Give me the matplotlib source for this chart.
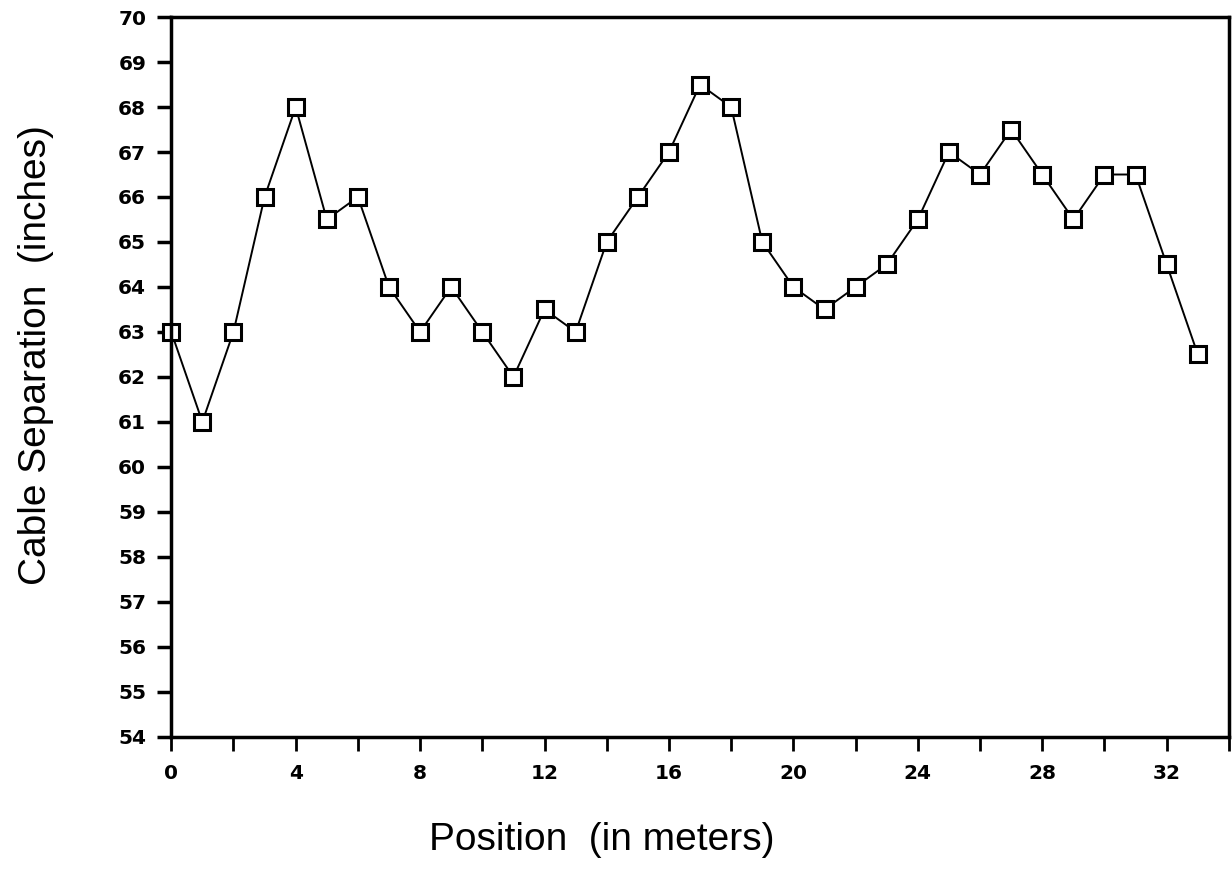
import numpy as np
import matplotlib.pyplot as plt

position = np.arange(0, 34)
separation = [63, 61, 63, 66, 68, 65.5, 66, 64, 63, 64,
              63, 62, 63.5, 63, 65, 66, 67, 68.5, 68, 65,
              64, 63.5, 64, 64.5, 65.5, 67, 66.5, 67.5, 66.5, 65.5,
              66.5, 66.5, 64.5, 62.5]

xticks_major = [0, 4, 8, 12, 16, 20, 24, 28, 32]
yticks = list(range(54, 71))

fig = plt.figure(figsize=(12.32, 8.77), dpi=100)
ax = fig.add_axes([0.139, 0.16, 0.8585, 0.8205])

ax.plot(position, separation, color='black', linewidth=1.4,
        marker='s', markersize=12, markerfacecolor='white',
        markeredgecolor='black', markeredgewidth=2.2, clip_on=False)

ax.set_xlim(0, 34)
ax.set_ylim(54, 70)
ax.set_xticks(xticks_major)
ax.set_xticks(np.arange(0, 35, 2), minor=True)
ax.set_yticks(yticks)

for s in ax.spines.values():
    s.set_linewidth(2.5)

ax.tick_params(axis='x', which='both', direction='out', length=10, width=2,
               labelsize=14.5, pad=10)
ax.tick_params(axis='y', which='both', direction='out', length=10, width=2.5,
               labelsize=14.5, pad=8)
for lab in ax.get_xticklabels() + ax.get_yticklabels():
    lab.set_fontweight('bold')

ax.set_xlabel('Position  (in meters)', fontsize=28, family='Liberation Sans')
ax.set_ylabel('Cable Separation  (inches)', fontsize=28, family='Liberation Sans')
ax.xaxis.set_label_coords(0.407, -0.143)
ax.yaxis.set_label_coords(-0.128, 0.53)
ax.xaxis.label.set_va('center')
ax.yaxis.label.set_va('center')

plt.savefig('out.png', dpi=100)
